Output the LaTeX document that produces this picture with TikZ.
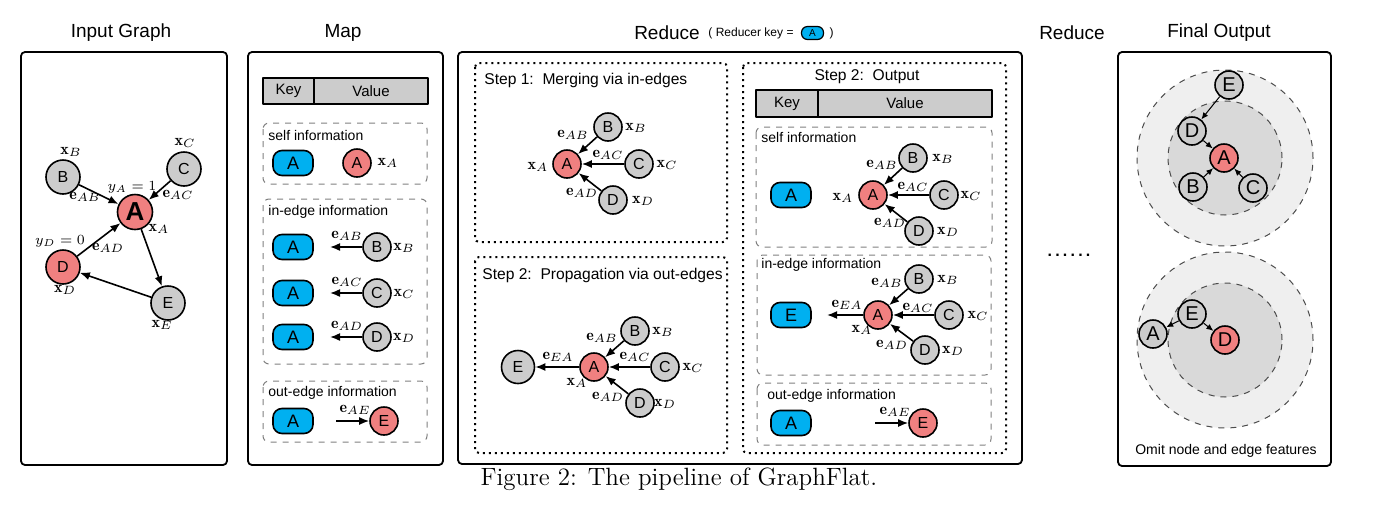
\documentclass[tikz,border=0pt]{standalone}
\usepackage{fontspec}
\setsansfont{Liberation Sans}
\usetikzlibrary{arrows.meta,positioning}
\definecolor{nodered}{RGB}{240,128,128}
\definecolor{nodegray}{RGB}{204,204,204}
\definecolor{keyblue}{RGB}{0,176,240}
\definecolor{boxgray}{RGB}{128,128,128}
\definecolor{ringout}{RGB}{239,239,239}
\definecolor{ringin}{RGB}{217,217,217}
\newcommand\fsz[1]{\fontsize{#1}{#1}\selectfont}
\begin{document}
\begin{tikzpicture}[x=0.5pt, y=-0.5pt, >={Latex[length=5pt,width=4pt]}, line join=round, font=\sffamily,
	gnode/.style={circle, draw, line width=0.8pt, fill=nodegray, inner sep=0pt, minimum size=14pt, font=\sffamily\fsz{8}},
	rnode/.style={gnode, fill=nodered},
	big/.style={minimum size=17pt},
	keybox/.style={draw, line width=0.8pt, rounded corners=4.5pt, fill=keyblue, minimum width=20pt, minimum height=12.5pt, inner sep=0pt, font=\sffamily\fsz{9}},
	panel/.style={draw, line width=0.9pt, rounded corners=2pt},
	infobox/.style={draw=boxgray, dashed, line width=0.5pt, rounded corners=3pt},
	stepbox/.style={draw, line width=1pt, dash pattern=on 1pt off 2pt, rounded corners=2pt},
	hdr/.style={draw, line width=1pt, fill=nodegray, inner sep=0pt, font=\sffamily\fsz{7.5}},
	ttl/.style={font=\sffamily\fsz{9.5}},
	sec/.style={anchor=west, inner sep=0pt, font=\sffamily\fsz{7}},
	stp/.style={inner sep=0pt, font=\sffamily\fsz{7.8}},
	lab/.style={inner sep=0pt, font=\footnotesize},
	arr/.style={->, line width=0.8pt},
	thin arr/.style={-{Latex[length=3.5pt,width=3pt]}, line width=0.5pt}]
	\useasboundingbox (0,0) rectangle (1381,515);
	%Input Graph
	\node[ttl] (tInput) at (121,33) {Input Graph};
	\draw[panel] (21,52) rectangle (227,465);
	\node[gnode, big] (iB) at (63,177) {B};
	\node[gnode, big] (iC) at (184,169) {C};
	\node[rnode, minimum size=17.5pt, font=\sffamily\bfseries\fsz{13}] (iA) at (135,212) {A};
	\node[rnode, big] (iD) at (63,267) {D};
	\node[gnode, big] (iE) at (168,303) {E};
	\draw[arr] (iB)--(iA);
	\draw[arr] (iC)--(iA);
	\draw[arr] (iD)--(iA);
	\draw[arr] (iA)--(iE);
	\draw[arr] (iE)--(iD);
	\node[lab] (ixB) at (71,152) {$\mathbf{x}_B$};
	\node[lab] (ixC) at (185,143) {$\mathbf{x}_C$};
	\node[lab, font=\scriptsize] (iyA) at (132,187) {$y_A=1$};
	\node[lab] (ieAB) at (85,197) {$\mathbf{e}_{AB}$};
	\node[lab] (ieAC) at (178,195) {$\mathbf{e}_{AC}$};
	\node[lab] (ixA) at (159,229) {$\mathbf{x}_A$};
	\node[lab, font=\scriptsize] (iyD) at (60,241) {$y_D=0$};
	\node[lab] (ieAD) at (108,248) {$\mathbf{e}_{AD}$};
	\node[lab] (ixD) at (65,290) {$\mathbf{x}_D$};
	\node[lab] (ixE) at (162,325) {$\mathbf{x}_E$};
	%Map
	\node[ttl] (tMap) at (343,33) {Map};
	\draw[panel] (248,52) rectangle (443,465);
	\node[hdr, minimum width=25.5pt, minimum height=13pt] (mKey) at (288.5,91) {Key};
	\node[hdr, minimum width=57pt, minimum height=13pt] (mVal) at (371,91) {Value};
	\draw[infobox] (263,123) rectangle (427,184);
	\node[sec] (mSelf) at (268,135) {self information};
	\node[keybox] (mk1) at (293,163) {A};
	\node[rnode] (mA) at (357,163) {A};
	\node[lab] (mxA) at (388,163) {$\mathbf{x}_A$};
	\draw[infobox] (263,199) rectangle (427,364);
	\node[sec] (mIn) at (268,212) {in-edge information};
	\node[keybox] (mk2) at (293,247) {A};
	\node[gnode] (mB) at (377,247) {B};
	\coordinate (mbB) at (330,247);
	\draw[arr] (mB)--(mbB);
	\node[lab] (meAB) at (347,236) {$\mathbf{e}_{AB}$};
	\node[lab] (mxB) at (404,248) {$\mathbf{x}_B$};
	\node[keybox] (mk3) at (293,293) {A};
	\node[gnode] (mC) at (377,293) {C};
	\coordinate (mbC) at (330,293);
	\draw[arr] (mC)--(mbC);
	\node[lab] (meAC) at (347,282) {$\mathbf{e}_{AC}$};
	\node[lab] (mxC) at (404,294) {$\mathbf{x}_C$};
	\node[keybox] (mk4) at (293,337) {A};
	\node[gnode] (mD) at (377,337) {D};
	\coordinate (mbD) at (330,337);
	\draw[arr] (mD)--(mbD);
	\node[lab] (meAD) at (347,326) {$\mathbf{e}_{AD}$};
	\node[lab] (mxD) at (404,338) {$\mathbf{x}_D$};
	\draw[infobox] (263,381) rectangle (427,442);
	\node[sec] (mOut) at (268,393) {out-edge information};
	\node[keybox] (mk5) at (293,421) {A};
	\node[rnode] (mE) at (384,421) {E};
	\coordinate (mbE) at (336,421);
	\draw[arr] (mbE)--(mE);
	\node[lab] (meAE) at (355,410) {$\mathbf{e}_{AE}$};
	%Reduce
	\node[ttl] (tRed) at (667,33) {Reduce};
	\node[inner sep=0pt, font=\sffamily\fsz{6}] (rk) at (751,33) {( Reducer key =};
	\node[keybox, right=3.5pt of rk, minimum width=11pt, minimum height=6.5pt, rounded corners=3pt, line width=0.6pt, font=\sffamily\fsz{5}] (rkA) {A};
	\node[inner sep=0pt, font=\sffamily\fsz{6}, right=2.5pt of rkA] (rkc) {)};
	\draw[panel] (458,52) rectangle (1022,464);
	%Step 1
	\draw[stepbox] (475,63) rectangle (727,242);
	\node[stp, anchor=west] (s1t) at (484,80) {Step 1:\ \ Merging via in-edges};
	\node[rnode] (s1A) at (567,164) {A};
	\node[gnode] (s1B) at (608,127) {B};
	\node[gnode] (s1C) at (639,164) {C};
	\node[gnode] (s1D) at (613,200) {D};
	\draw[arr] (s1B)--(s1A);
	\draw[arr] (s1C)--(s1A);
	\draw[arr] (s1D)--(s1A);
	\node[lab] (s1xA) at (538,167) {$\mathbf{x}_A$};
	\node[lab] (s1eAB) at (573,135) {$\mathbf{e}_{AB}$};
	\node[lab] (s1xB) at (636,128) {$\mathbf{x}_B$};
	\node[lab] (s1eAC) at (608,155) {$\mathbf{e}_{AC}$};
	\node[lab] (s1xC) at (667,165) {$\mathbf{x}_C$};
	\node[lab] (s1eAD) at (582,193) {$\mathbf{e}_{AD}$};
	\node[lab] (s1xD) at (643,201) {$\mathbf{x}_D$};
	%Step 2 propagation
	\draw[stepbox] (475,257) rectangle (727,453);
	\node[stp, anchor=west] (s2t) at (482,275) {Step 2:\ \ Propagation via out-edges};
	\node[gnode, minimum size=16.5pt] (s2E) at (518,367) {E};
	\node[rnode] (s2A) at (594,367) {A};
	\node[gnode] (s2B) at (635,331) {B};
	\node[gnode] (s2C) at (665,367) {C};
	\node[gnode] (s2D) at (640,403) {D};
	\draw[arr] (s2A)--(s2E);
	\draw[arr] (s2B)--(s2A);
	\draw[arr] (s2C)--(s2A);
	\draw[arr] (s2D)--(s2A);
	\node[lab] (s2eEA) at (558,357) {$\mathbf{e}_{EA}$};
	\node[lab] (s2xA) at (577,383) {$\mathbf{x}_A$};
	\node[lab] (s2eAB) at (602,338) {$\mathbf{e}_{AB}$};
	\node[lab] (s2xB) at (663,332) {$\mathbf{x}_B$};
	\node[lab] (s2eAC) at (635,357) {$\mathbf{e}_{AC}$};
	\node[lab] (s2xC) at (693,368) {$\mathbf{x}_C$};
	\node[lab] (s2eAD) at (608,397) {$\mathbf{e}_{AD}$};
	\node[lab] (s2xD) at (665,404) {$\mathbf{x}_D$};
	%Step 2 output
	\draw[stepbox] (743,63) rectangle (1006,453);
	\node[stp] (s3t) at (867,77) {Step 2:\ \ Output};
	\node[hdr, minimum width=31pt, minimum height=13.5pt] (oKey) at (787,103.5) {Key};
	\node[hdr, minimum width=87pt, minimum height=13.5pt] (oVal) at (905,103.5) {Value};
	\draw[infobox] (756,127) rectangle (992,247);
	\node[sec] (oSelf) at (761,137) {self information};
	\node[keybox] (ok1) at (791,195) {A};
	\node[rnode] (o1A) at (873,195) {A};
	\node[gnode] (o1B) at (913,158) {B};
	\node[gnode] (o1C) at (944,195) {C};
	\node[gnode] (o1D) at (919,231) {D};
	\draw[arr] (o1B)--(o1A);
	\draw[arr] (o1C)--(o1A);
	\draw[arr] (o1D)--(o1A);
	\node[lab] (o1xA) at (843,198) {$\mathbf{x}_A$};
	\node[lab] (o1eAB) at (882,165) {$\mathbf{e}_{AB}$};
	\node[lab] (o1xB) at (943,159) {$\mathbf{x}_B$};
	\node[lab] (o1eAC) at (913,187) {$\mathbf{e}_{AC}$};
	\node[lab] (o1xC) at (971,196) {$\mathbf{x}_C$};
	\node[lab] (o1eAD) at (890,223) {$\mathbf{e}_{AD}$};
	\node[lab] (o1xD) at (948,232) {$\mathbf{x}_D$};
	\draw[infobox] (757,255) rectangle (991,375);
	\node[sec] (oIn) at (761,265) {in-edge information};
	\node[keybox] (ok2) at (791,315) {E};
	\node[rnode] (o2A) at (878,315) {A};
	\node[gnode] (o2B) at (919,279) {B};
	\node[gnode] (o2C) at (949,315) {C};
	\node[gnode] (o2D) at (925,350) {D};
	\coordinate (o2end) at (827,315);
	\draw[arr] (o2A)--(o2end);
	\draw[arr] (o2B)--(o2A);
	\draw[arr] (o2C)--(o2A);
	\draw[arr] (o2D)--(o2A);
	\node[lab] (o2eEA) at (847,305) {$\mathbf{e}_{EA}$};
	\node[lab] (o2xA) at (862,330) {$\mathbf{x}_A$};
	\node[lab] (o2eAB) at (887,283) {$\mathbf{e}_{AB}$};
	\node[lab] (o2xB) at (948,280) {$\mathbf{x}_B$};
	\node[lab] (o2eAC) at (918,308) {$\mathbf{e}_{AC}$};
	\node[lab] (o2xC) at (978,316) {$\mathbf{x}_C$};
	\node[lab] (o2eAD) at (892,345) {$\mathbf{e}_{AD}$};
	\node[lab] (o2xD) at (953,351) {$\mathbf{x}_D$};
	\draw[infobox] (757,383) rectangle (991,445);
	\node[sec] (oOut) at (767,396) {out-edge information};
	\node[keybox] (ok3) at (791,423) {A};
	\node[rnode] (o3E) at (923,423) {E};
	\coordinate (o3beg) at (875,423);
	\draw[arr] (o3beg)--(o3E);
	\node[lab] (o3eAE) at (895,412) {$\mathbf{e}_{AE}$};
	%Reduce ...
	\node[ttl] (tRed2) at (1072,33) {Reduce};
	\node[inner sep=0pt, font=\sffamily\bfseries\fsz{8}] (dots) at (1069,255) {.\kern1.6pt.\kern1.6pt.\kern1.6pt.\kern1.6pt.\kern1.6pt.};
	%Final Output
	\node[ttl] (tFin) at (1219,33) {Final Output};
	\draw[panel] (1118,52) rectangle (1331,466);
	\draw[draw=black!70, dashed, line width=0.5pt, fill=ringout] (1225,158) circle [radius=44pt];
	\draw[draw=black!70, dashed, line width=0.5pt, fill=ringin] (1225,158) circle [radius=28.5pt];
	\node[gnode, font=\sffamily\fsz{10}] (fE) at (1229,85) {E};
	\node[gnode, font=\sffamily\fsz{10}] (fD) at (1192,131) {D};
	\node[rnode, font=\sffamily\fsz{10}] (fA) at (1224,158) {A};
	\node[gnode, font=\sffamily\fsz{10}] (fB) at (1193,187) {B};
	\node[gnode, font=\sffamily\fsz{10}] (fC) at (1253,188) {C};
	\draw[thin arr] (fE)--(fD);
	\draw[thin arr] (fD)--(fA);
	\draw[thin arr] (fB)--(fA);
	\draw[thin arr] (fC)--(fA);
	\draw[draw=black!70, dashed, line width=0.5pt, fill=ringout] (1225,340) circle [radius=44pt];
	\draw[draw=black!70, dashed, line width=0.5pt, fill=ringin] (1225,340) circle [radius=28.5pt];
	\node[gnode, font=\sffamily\fsz{10}] (gA) at (1153,334) {A};
	\node[gnode, font=\sffamily\fsz{10}] (gE) at (1192,314) {E};
	\node[rnode, font=\sffamily\fsz{10}] (gD) at (1225,340) {D};
	\draw[thin arr] (gE)--(gA);
	\draw[thin arr] (gE)--(gD);
	\node[inner sep=0pt, font=\sffamily\fsz{7}] (omit) at (1226,451) {Omit node and edge features};
	%caption
	\node[inner sep=0pt, font=\rmfamily\fsz{12.5}] (cap) at (679,479) {Figure 2: The pipeline of GraphFlat.};
\end{tikzpicture}
\end{document}
